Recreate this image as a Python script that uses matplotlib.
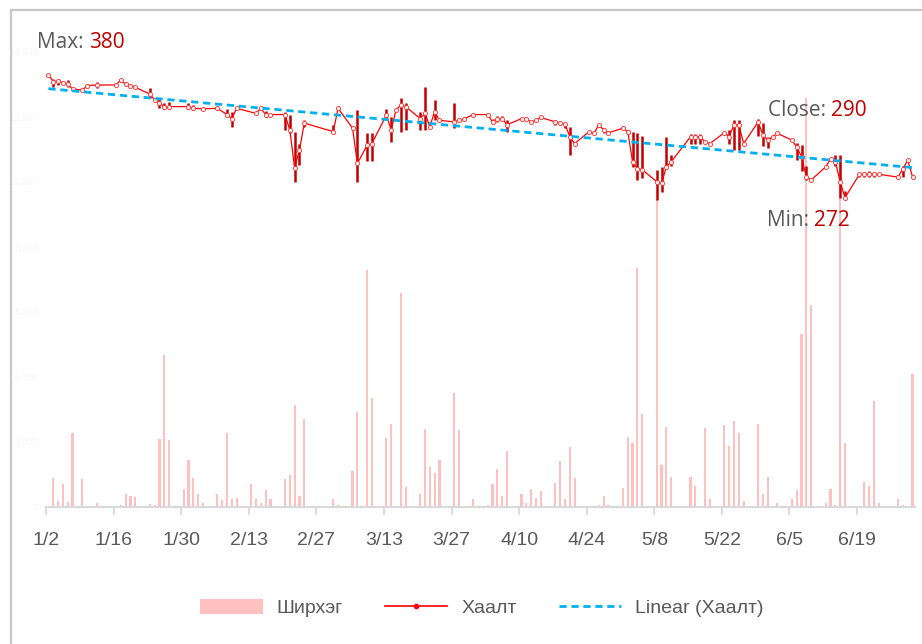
import datetime as dt
import numpy as np
import matplotlib
matplotlib.use("Agg")
import matplotlib.pyplot as plt
import matplotlib.dates as mdates
from matplotlib.patches import Patch, Rectangle
from matplotlib.lines import Line2D

YEAR = 2023

price_dates = ["01-02", "01-03", "01-04", "01-05", "01-06", "01-07", "01-09", "01-10", "01-12",
               "01-16", "01-17", "01-18", "01-19", "01-20", "01-23", "01-24", "01-25", "01-26",
               "01-27", "01-31", "02-01", "02-03", "02-06", "02-08", "02-09", "02-10", "02-14",
               "02-15", "02-16", "02-17", "02-20", "02-21", "02-22", "02-23", "02-24", "03-02",
               "03-03", "03-06", "03-07", "03-09", "03-10", "03-13", "03-14", "03-15", "03-16",
               "03-17", "03-20", "03-21", "03-22", "03-23", "03-24", "03-27", "03-28", "03-29",
               "03-31", "04-03", "04-04", "04-05", "04-06", "04-07", "04-10", "04-11", "04-12",
               "04-13", "04-14", "04-17", "04-18", "04-19", "04-20", "04-21", "04-24", "04-25",
               "04-26", "04-27", "04-28", "05-01", "05-02", "05-03", "05-04", "05-05", "05-08",
               "05-09", "05-10", "05-11", "05-15", "05-16", "05-17", "05-18", "05-19", "05-22",
               "05-23", "05-24", "05-25", "05-26", "05-29", "05-30", "05-31", "06-01", "06-02",
               "06-05", "06-06", "06-07", "06-08", "06-09", "06-12", "06-13", "06-14", "06-15",
               "06-16", "06-19", "06-20", "06-21", "06-22", "06-23", "06-27", "06-28", "06-29",
               "06-30"]
close = [380, 374, 374.5, 373, 372, 367.5, 366.5, 370.5, 371,
         371, 375.5, 371.5, 370.5, 369, 363, 358, 355, 352,
         352, 352, 350.5, 350, 350.5, 345, 341.5, 350.5, 346,
         350.5, 345, 345, 345, 331.5, 298, 314, 337.5, 330,
         350.5, 333, 302, 318, 319.5, 344.5, 331.5, 349, 353.5,
         352, 341.5, 346, 334.5, 347.5, 340, 338.5, 340, 341,
         345, 345, 338.5, 341.5, 341.5, 336, 341.5, 341, 338.5,
         340, 342.5, 338.5, 337.5, 336.5, 325.5, 319.5, 330, 328.5,
         336, 331.5, 329, 333, 330, 303.5, 297.5, 296.5, 286,
         284.5, 299, 303.5, 325.5, 325.5, 325.5, 321, 319.5, 329,
         325.5, 336, 336, 319.5, 338.5, 327, 322.5, 325.5, 328.5,
         322.5, 316.5, 308, 290, 287.5, 299, 306, 303.5, 286,
         272, 292.5, 292.5, 292.5, 292.5, 292.5, 290, 297.5, 305,
         290]
high = [380, 376, 375.5, 373, 375, 367.5, 366.5, 370.5, 374,
        371, 375.5, 374, 370.5, 369, 368.5, 358, 359, 355,
        356, 355, 353, 350, 350.5, 350, 347.5, 350.5, 346,
        350.5, 348, 345, 347.5, 345, 330, 319.5, 340, 336,
        350.5, 333, 349, 329, 329, 350, 343, 349, 359.5,
        355, 347, 369.5, 334.5, 358, 340, 355, 340, 341,
        345, 345, 341.5, 343.5, 343.5, 340, 341.5, 341, 338.5,
        340, 342.5, 340, 339, 337.5, 334.5, 319.5, 330, 328.5,
        336, 333, 329, 333, 330, 330, 329, 326.5, 296.5,
        299, 325.5, 309.5, 328, 328, 328, 321, 319.5, 329,
        331.5, 340, 340, 319.5, 341, 338, 325, 325.5, 328.5,
        322.5, 320, 318, 300, 287.5, 299, 306, 309.5, 309.5,
        278, 294, 294, 295, 294, 292.5, 292, 300, 305,
        292]
low = [380, 369.5, 371, 373, 369.5, 367.5, 366.5, 370.5, 368.5,
       371, 375.5, 370, 370.5, 369, 359.5, 358, 351, 350,
       350, 349.5, 349, 350, 350.5, 342.5, 334.5, 350.5, 346,
       350.5, 343, 345, 331.5, 329, 286, 300.5, 334, 329,
       350.5, 333, 286, 304, 304, 343, 321, 349, 330,
       331, 331, 331.5, 334.5, 340, 340, 333, 340, 341,
       345, 345, 336.5, 338.5, 340, 330, 341.5, 341, 338.5,
       340, 342.5, 336, 336, 333, 309.5, 319.5, 330, 328.5,
       336, 328.5, 329, 333, 330, 299, 287.5, 289, 270,
       277, 297, 300, 319, 319, 319, 321, 319.5, 329,
       319.5, 314, 314, 319.5, 326, 317.5, 316, 325.5, 328.5,
       322.5, 305, 295, 287.5, 287.5, 299, 306, 300, 272,
       272, 290, 290, 290, 290, 292.5, 288, 290, 305,
       288]

volume_dates = ["01-03", "01-04", "01-05", "01-06", "01-07", "01-09", "01-12", "01-17", "01-18",
                "01-19", "01-20", "01-23", "01-24", "01-25", "01-26", "01-27", "01-30", "01-31",
                "02-01", "02-02", "02-03", "02-06", "02-07", "02-08", "02-09", "02-10", "02-13",
                "02-14", "02-15", "02-16", "02-17", "02-20", "02-21", "02-22", "02-23", "02-24",
                "03-02", "03-03", "03-06", "03-07", "03-09", "03-10", "03-13", "03-14", "03-16",
                "03-17", "03-20", "03-21", "03-22", "03-23", "03-24", "03-27", "03-28", "03-29",
                "03-31", "04-03", "04-04", "04-05", "04-06", "04-07", "04-10", "04-11", "04-12",
                "04-13", "04-14", "04-17", "04-18", "04-19", "04-20", "04-21", "04-25", "04-26",
                "04-27", "04-28", "05-01", "05-02", "05-03", "05-04", "05-05", "05-08", "05-09",
                "05-10", "05-11", "05-15", "05-16", "05-18", "05-19", "05-22", "05-23", "05-24",
                "05-25", "05-26", "05-29", "05-30", "05-31", "06-02", "06-05", "06-06", "06-07",
                "06-08", "06-09", "06-12", "06-13", "06-14", "06-15", "06-16", "06-19", "06-20",
                "06-21", "06-22", "06-23", "06-27", "06-28", "06-30"]
volume = [900, 185, 700, 145, 2290, 860, 110, 60, 390,
          350, 310, 100, 60, 2080, 4680, 2050, 540, 1460,
          900, 410, 130, 410, 210, 2290, 250, 290, 710,
          250, 120, 530, 250, 860, 980, 3150, 330, 2710,
          250, 60, 1110, 2910, 7290, 3340, 2120, 2560, 6580,
          620, 410, 2400, 1220, 1060, 1460, 3500, 2370, 40,
          240, 60, 700, 1180, 330, 1730, 410, 120, 540,
          280, 500, 750, 1420, 240, 1850, 900, 40, 60,
          330, 60, 580, 2160, 1970, 7360, 2870, 9450, 1290,
          2470, 930, 930, 660, 2430, 240, 2510, 1890, 2640,
          2280, 190, 2550, 410, 930, 130, 250, 530, 5320,
          12590, 6220, 120, 540, 60, 10620, 1970, 40, 780,
          650, 3260, 120, 250, 60, 4090]

tick_dates = ["01-02", "01-16", "01-30", "02-13", "02-27", "03-13", "03-27",
              "04-10", "04-24", "05-08", "05-22", "06-05", "06-19"]
tick_labels = ["1/2", "1/16", "1/30", "2/13", "2/27", "3/13", "3/27",
               "4/10", "4/24", "5/8", "5/22", "6/5", "6/19"]
volume_ticks = [0, 2000, 4000, 6000, 8000, 10000, 12000, 14000]
x_start, x_end = "01-02", "07-01"

legend_labels = ["Ширхэг", "Хаалт", "Linear (Хаалт)"]


def dnum(md, center=False):
    m, d = md.split("-")
    v = mdates.date2num(dt.datetime(YEAR, int(m), int(d)))
    return v + 0.5 if center else v


W, H = 922, 644
fig = plt.figure(figsize=(W / 100, H / 100), dpi=100)
fig.patch.set_facecolor("white")

GRAY = "#595959"
RED_TXT = "#C00000"
TXT_FONT = ["Open Sans", "DejaVu Sans"]
AX_FONT = ["Liberation Sans Narrow", "Liberation Sans", "DejaVu Sans"]

# chart border
fig.add_artist(Rectangle((11 / W, -0.2), 1.2, 1.2 - 10 / H, transform=fig.transFigure,
                         fill=False, edgecolor="#C8C8C8", linewidth=1.6))

ax = fig.add_axes([46 / W, 137 / H, 869 / W, 487 / H])
ax.set_facecolor("none")

vx = [dnum(d, True) for d in volume_dates]
ax.bar(vx, volume, width=0.45, color="#FFC0C0", zorder=1, linewidth=0)
ax.set_ylim(0, 487 / 65 * 2000)
ax.set_xlim(dnum(x_start), dnum(x_end))
ax.set_yticks(volume_ticks)
ax.set_yticklabels([f"{v:,}" for v in volume_ticks], color="#F6F6F6", fontsize=6)
ax.tick_params(axis="y", length=0, pad=6)
ax.set_xticks([dnum(d) for d in tick_dates])
ax.set_xticklabels(tick_labels, family=AX_FONT)
ax.tick_params(axis="x", length=6, width=1.3, color="#D9D9D9", labelcolor=GRAY,
               labelsize=14, pad=12)
for s in ["top", "right", "left"]:
    ax.spines[s].set_visible(False)
ax.spines["bottom"].set_color("#D9D9D9")
ax.spines["bottom"].set_linewidth(1.5)

ax2 = ax.twinx()
ax2.set_ylim(0, 487 / 1.1375)
ax2.set_yticks([])
for s in ax2.spines.values():
    s.set_visible(False)

px = np.array([dnum(d, True) for d in price_dates])
ax2.vlines(px, low, high, color="#C00000", linewidth=1.8, zorder=2)
ax2.plot(px, close, color="#FF0000", linewidth=0.9, marker="o", markersize=3.0,
         markerfacecolor="#FFF0F0", markeredgecolor="#FF3030", markeredgewidth=0.6, zorder=3)

coef = np.polyfit(px, close, 1)
tx = np.array([px[0], px[-1]])
ax2.plot(tx, np.polyval(coef, tx), color="#00B0F0", linewidth=2.0,
         linestyle=(0, (2.6, 1.7)), zorder=4)

# annotations
renderer = fig.canvas.get_renderer()


def two_tone(x_px, y_px, a, b, size=15):
    t1 = fig.text(x_px / W, 1 - y_px / H, a, color=GRAY, fontsize=size, va="center",
                  ha="left", family=TXT_FONT)
    bb = t1.get_window_extent(renderer)
    fig.text(bb.x1 / W, 1 - y_px / H, b, color=RED_TXT, fontsize=size, va="center",
             ha="left", family=TXT_FONT)


two_tone(37, 42, "Max: ", f"{max(close):g}")
two_tone(768, 110, "Close: ", f"{close[-1]:g}")
two_tone(767, 220, "Min: ", f"{min(close):g}")

handles = [Patch(facecolor="#FFC0C0", edgecolor="none"),
           Line2D([], [], color="#FF0000", linewidth=1.2, marker="o", markersize=3,
                  markerfacecolor="#FF0000"),
           Line2D([], [], color="#00B0F0", linewidth=2.0, linestyle=(0, (2.6, 1.7)))]
leg = fig.legend(handles, legend_labels, loc="center", bbox_to_anchor=(482 / W, 1 - 608 / H),
                 ncol=3, frameon=False, handlelength=3.2, handleheight=0.8,
                 columnspacing=2.2, handletextpad=0.7, prop={"family": AX_FONT, "size": 14})
for t in leg.get_texts():
    t.set_color(GRAY)

fig.savefig("out.png", dpi=100, facecolor="white")
